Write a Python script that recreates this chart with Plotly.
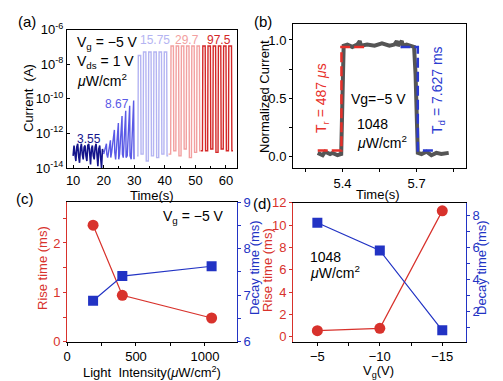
import plotly.graph_objects as go

FONT = "Liberation Sans, Arial, sans-serif"
NAVY = "#14148c"
MBLUE = "#5a5ae6"
LAV = "#b4b4f2"
PINK = "#f2a0a0"
RED97 = "#d42828"
RED = "#d8322c"
BLUE = "#2233c4"

# ---------------- panel (a) data (log10 of current) ----------------
t_355 = [10.0, 10.3, 10.6, 10.9, 11.2, 11.5, 11.8, 12.1, 12.4, 12.7, 13.0, 13.3, 13.6, 13.9,
         14.2, 14.5, 14.8, 15.1, 15.4, 15.7, 16.0, 16.3, 16.6, 16.9, 17.2, 17.5, 17.8, 18.1,
         18.4, 18.7, 19.0, 19.3, 19.6, 19.8]
logI_355 = [-13.3, -12.7, -13.2, -13.6, -12.8, -12.6, -13.3, -13.7, -12.9, -12.6, -13.2, -13.5,
            -12.8, -12.7, -13.3, -13.6, -12.7, -12.6, -13.1, -13.8, -12.9, -12.7, -13.3, -13.5,
            -12.8, -12.6, -13.2, -13.9, -12.9, -12.7, -13.4, -14.0, -12.9, -13.1]

start_867 = [20.0, 21.3, 22.6, 23.9, 25.2, 26.4, 27.7, 29.0]
peak_t_867 = [20.9, 22.2, 23.5, 24.8, 26.0, 27.2, 28.5, 29.8]
peak_867 = [-12.6, -12.4, -11.8, -11.4, -11.0, -10.7, -10.4, -10.1]
low_867 = [-13.2, -13.4, -13.1, -13.5, -13.2, -13.4, -13.3, -13.5]

rise_1575 = [31.2, 32.9, 34.6, 36.3, 38.0, 39.7]
fall_1575 = [32.1, 33.8, 35.5, 37.2, 38.9, 40.6]
high_1575 = [-7.5, -7.3, -7.3, -7.3, -7.3, -7.3]
low_1575 = [-13.2, -13.6, -13.3, -13.4, -13.2, -13.3]

rise_297 = [41.9, 43.6, 45.3, 47.0, 48.7, 50.4]
fall_297 = [42.8, 44.5, 46.2, 47.9, 49.6, 51.3]
high_297 = [-6.95, -6.95, -6.95, -6.95, -6.95, -6.95]
low_297 = [-13.0, -13.3, -12.9, -13.4, -13.1, -13.0]

rise_975 = [52.3, 54.0, 55.7, 57.4, 59.1, 60.8]
fall_975 = [53.2, 54.9, 56.6, 58.3, 60.0, 61.8]
high_975 = [-6.95, -6.95, -6.95, -6.95, -6.95, -6.95]
low_975 = [-13.0, -12.9, -13.1, -12.9, -13.0, -13.0]

intensity_labels = ["3.55", "8.67", "15.75", "29.7", "97.5"]

# ---------------- panel (b) data ----------------
t_b = [5.30, 5.32, 5.33, 5.35, 5.36, 5.38, 5.395, 5.401, 5.405, 5.42, 5.44, 5.46, 5.47, 5.475,
       5.50, 5.53, 5.56, 5.59, 5.61, 5.62, 5.625, 5.64, 5.645, 5.66, 5.68, 5.69, 5.696, 5.70,
       5.705, 5.72, 5.74, 5.76, 5.78, 5.80, 5.83]
n_b = [0.03, 0.01, 0.04, 0.02, 0.03, 0.01, 0.02, 0.5, 0.95, 0.96, 0.94, 0.96, 0.99, 0.95,
       0.96, 0.95, 0.97, 0.95, 0.96, 0.99, 0.95, 0.99, 0.95, 0.96, 0.95, 0.94, 0.7, 0.2,
       0.03, 0.02, 0.04, 0.01, 0.03, 0.02, 0.03]
rise_fit_t = [5.30, 5.396, 5.396, 5.49]
rise_fit_n = [0.05, 0.05, 0.94, 0.94]
decay_fit_t = [5.635, 5.705, 5.705, 5.77]
decay_fit_n = [0.94, 0.94, 0.05, 0.05]

# ---------------- panel (c) data ----------------
intensity = [189, 401, 1048]
rise_c = [2.36, 0.94, 0.48]
decay_c = [6.88, 7.41, 7.62]

# ---------------- panel (d) data ----------------
vg = [-5, -10, -15]
rise_d = [0.54, 0.75, 11.27]
decay_d = [7.52, 5.79, 0.81]


def square_wave(rise, fall, high, low, t0, low0, ramp=0.12):
    xs, ys = [t0], [low0]
    prev = low0
    for r, f, h, lo in zip(rise, fall, high, low):
        xs += [r, r + ramp, f, f + ramp]
        ys += [prev, h, h, lo]
        prev = lo
    return xs, ys


def saw_wave(starts, peak_t, peaks, lows, ramp=0.12):
    xs, ys = [], []
    for s, pt, p, lo in zip(starts, peak_t, peaks, lows):
        xs += [s, pt, pt + ramp]
        ys += [lo, p, lo]
    return xs, ys


fig = go.Figure()

def pw(vals):
    return [10 ** v for v in vals]

fig.add_trace(go.Scatter(x=t_355, y=pw(logI_355), mode="lines", line=dict(color=NAVY, width=1.6),
                         xaxis="x", yaxis="y", showlegend=False))
sx, sy = saw_wave(start_867, peak_t_867, peak_867, low_867)
fig.add_trace(go.Scatter(x=sx, y=pw(sy), mode="lines", line=dict(color=MBLUE, width=1.4),
                         xaxis="x", yaxis="y", showlegend=False))
for rs, fs, hs, ls, col, t0, l0 in [
    (rise_1575, fall_1575, high_1575, low_1575, LAV, 30.9, -13.3),
    (rise_297, fall_297, high_297, low_297, PINK, 41.2, -13.2),
    (rise_975, fall_975, high_975, low_975, RED97, 51.8, -13.0),
]:
    qx, qy = square_wave(rs, fs, hs, ls, t0, l0)
    qx.append(fs[-1] + 0.5)
    qy.append(ls[-1])
    fig.add_trace(go.Scatter(x=qx, y=pw(qy), mode="lines", line=dict(color=col, width=1.4),
                             xaxis="x", yaxis="y", showlegend=False))

# panel (b)
fig.add_trace(go.Scatter(x=t_b, y=n_b, mode="lines", line=dict(color="#555555", width=4),
                         xaxis="x2", yaxis="y2", showlegend=False))
fig.add_trace(go.Scatter(x=rise_fit_t, y=rise_fit_n, mode="lines",
                         line=dict(color="#e8302a", width=2.5, dash="10px,4px"),
                         xaxis="x2", yaxis="y2", showlegend=False))
fig.add_trace(go.Scatter(x=decay_fit_t, y=decay_fit_n, mode="lines",
                         line=dict(color="#2a3ad0", width=2.5, dash="10px,4px"),
                         xaxis="x2", yaxis="y2", showlegend=False))

# panel (c)
fig.add_trace(go.Scatter(x=intensity, y=rise_c, mode="lines+markers",
                         line=dict(color=RED, width=1.2), marker=dict(symbol="circle", size=11, color=RED),
                         xaxis="x3", yaxis="y3", showlegend=False))
fig.add_trace(go.Scatter(x=intensity, y=decay_c, mode="lines+markers",
                         line=dict(color=BLUE, width=1.2), marker=dict(symbol="square", size=10, color=BLUE),
                         xaxis="x3", yaxis="y5", showlegend=False))
# panel (d)
fig.add_trace(go.Scatter(x=vg, y=rise_d, mode="lines+markers",
                         line=dict(color=RED, width=1.2), marker=dict(symbol="circle", size=11, color=RED),
                         xaxis="x4", yaxis="y4", showlegend=False))
fig.add_trace(go.Scatter(x=vg, y=decay_d, mode="lines+markers",
                         line=dict(color=BLUE, width=1.2), marker=dict(symbol="square", size=10, color=BLUE),
                         xaxis="x4", yaxis="y6", showlegend=False))

W, H = 503, 381
def dx(a, b):
    return [a / W, b / W]
def dy(top, bot):
    return [1 - bot / H, 1 - top / H]

tf = dict(family=FONT, size=13, color="black")
base = dict(showline=True, linewidth=1, linecolor="black", showgrid=False, zeroline=False,
            automargin=False, tickfont=tf, ticklen=3, tickwidth=1, tickcolor="black")

fig.update_layout(
    width=W, height=H, margin=dict(l=0, r=0, t=0, b=0, pad=0, autoexpand=False),
    paper_bgcolor="white", plot_bgcolor="white", font=dict(family=FONT, size=13, color="black"),
    xaxis=dict(base, domain=dx(67, 237), anchor="y", range=[8, 63.6], tickvals=[10, 20, 30, 40, 50, 60],
               ticks="inside", mirror=True, minor=dict(ticks="inside", ticklen=2, dtick=5, tick0=0)),
    yaxis=dict(base, domain=dy(29.5, 168), anchor="x", type="log", range=[-14, -6],
               tickvals=[1e-14, 1e-12, 1e-10, 1e-8, 1e-6],
               ticktext=["10<sup>-14</sup>", "10<sup>-12</sup>", "10<sup>-10</sup>", "10<sup>-8</sup>", "10<sup>-6</sup>"],
               ticks="inside", mirror=True),
    xaxis2=dict(base, domain=dx(293, 466), anchor="y2", range=[5.2, 5.9], tickvals=[5.4, 5.7],
                ticktext=["5.4", "5.7"], ticks="outside", mirror=True,
                minor=dict(ticks="outside", ticklen=3, tickvals=[5.25, 5.55, 5.85])),
    yaxis2=dict(base, domain=dy(24, 168), anchor="x2", range=[-0.10, 1.137], tickvals=[0, 0.5, 1.0],
                ticktext=["0.0", "0.5", "1.0"], ticks="outside", mirror=True,
                minor=dict(ticks="outside", ticklen=3, tickvals=[0.25, 0.75])),
    xaxis3=dict(base, domain=dx(67, 237), anchor="y3", range=[0, 1232], tickvals=[0, 500, 1000],
                ticks="outside", mirror=True, minor=dict(ticks="outside", ticklen=3, tickvals=[250, 750])),
    yaxis3=dict(base, domain=dy(202, 341.7), anchor="x3", range=[0, 2.83], tickvals=[0, 1, 2],
                ticks="outside", linecolor=RED, tickcolor=RED, tickfont=dict(tf, color=RED),
                minor=dict(ticks="outside", ticklen=3, tickvals=[0.5, 1.5, 2.5], tickcolor=RED)),
    yaxis5=dict(base, overlaying="y3", side="right", anchor="x3", range=[6, 9], tickvals=[6, 7, 8, 9],
                ticks="outside", linecolor=BLUE, tickcolor=BLUE, tickfont=dict(tf, color=BLUE),
                minor=dict(ticks="outside", ticklen=3, tickvals=[6.5, 7.5, 8.5], tickcolor=BLUE)),
    xaxis4=dict(base, domain=dx(293, 466), anchor="y4", range=[-3.05, -16.9], tickvals=[-5, -10, -15],
                ticktext=["\u22125", "\u221210", "\u221215"], ticks="outside", mirror=True,
                minor=dict(ticks="outside", ticklen=3, tickvals=[-7.5, -12.5])),
    yaxis4=dict(base, domain=dy(202.7, 341.7), anchor="x4", range=[-0.45, 12], tickvals=[0, 2, 4, 6, 8, 10, 12],
                ticks="outside", linecolor=RED, tickcolor=RED, tickfont=dict(tf, color=RED)),
    yaxis6=dict(base, overlaying="y4", side="right", anchor="x4", range=[0.1, 8.77], tickvals=[2, 4, 6, 8],
                ticks="outside", linecolor=BLUE, tickcolor=BLUE, tickfont=dict(tf, color=BLUE),
                minor=dict(ticks="outside", ticklen=3, tickvals=[1, 3, 5, 7], tickcolor=BLUE)),
)

def ann(x, y, text, size=13, color="black", angle=0, xanchor="center", yanchor="middle"):
    fig.add_annotation(x=x / W, y=1 - y / H, xref="paper", yref="paper", text=text, showarrow=False,
                       font=dict(family=FONT, size=size, color=color), textangle=angle,
                       xanchor=xanchor, yanchor=yanchor)

# panel labels
ann(27, 21, "(a)", 15)
ann(263, 21, "(b)", 15)
ann(25, 198, "(c)", 15)
ann(262, 203, "(d)", 15)

# panel (a) texts
ann(28, 98, "Current  (A)", 13, angle=-90)
ann(152, 195, "Time(s)", 13)
ann(75, 43, "V<sub>g</sub> = \u22125 V", 14, xanchor="left")
ann(75, 62, "V<sub>ds</sub> = 1 V", 14, xanchor="left")
ann(75, 80, "<i>\u03bc</i>W/cm<sup>2</sup>", 14, xanchor="left")
ann(89, 139, intensity_labels[0], 12, NAVY)
ann(117, 104, intensity_labels[1], 12, MBLUE)
ann(155, 40, intensity_labels[2], 12, LAV)
ann(187, 40, intensity_labels[3], 12, PINK)
ann(219, 40, intensity_labels[4], 12, RED97)

# panel (b) texts
ann(264, 97, "Normalized Current", 13, angle=-90)
ann(378, 194, "Time(s)", 13)
ann(322, 98, "T<sub>r</sub> = 487 <i>\u03bc</i>s", 14, "#e8302a", angle=-90)
ann(438, 90, "T<sub>d</sub> = 7.627 ms", 14, "#2a3ad0", angle=-90)
ann(378, 99, "Vg=\u22125 V", 14)
ann(372, 124, "1048", 14)
ann(382, 142, "<i>\u03bc</i>W/cm<sup>2</sup>", 14)

# panel (c) texts
ann(42, 268, "Rise time (ms)", 13, RED, angle=-90)
ann(254, 268, "Decay time (ms)", 13, BLUE, angle=-90)
ann(193, 217, "V<sub>g</sub> = \u22125 V", 14)
ann(152, 372, "Light  Intensity(<i>\u03bc</i>W/cm<sup>2</sup>)", 13)

# panel (d) texts
ann(267, 270, "Rise time (ms)", 13, RED, angle=-90)
ann(481, 268, "Decay time (ms)", 13, BLUE, angle=-90)
ann(308, 257, "1048", 14, xanchor="left")
ann(308, 272, "<i>\u03bc</i>W/cm<sup>2</sup>", 14, xanchor="left")
ann(378, 371, "V<sub>g</sub>(V)", 13)

fig.write_html("out.html", config={"displayModeBar": False},
               post_script="document.body.style.margin='0px';")
